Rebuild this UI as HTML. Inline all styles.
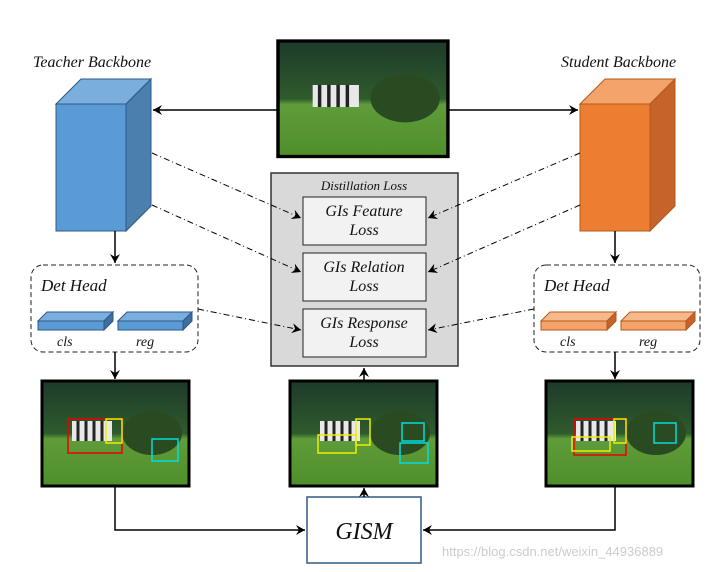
<!DOCTYPE html>
<html><head><meta charset="utf-8"><style>
body{margin:0;background:#fff}
svg{display:block}
text{font-family:"Liberation Serif",serif;font-style:italic;fill:#111}
</style></head><body>
<svg width="725" height="572" viewBox="0 0 725 572" xmlns="http://www.w3.org/2000/svg">
<defs>
<marker id="a" markerWidth="10" markerHeight="10" refX="9" refY="5" orient="auto" markerUnits="userSpaceOnUse"><path d="M0,0 L9,5 L0,10 L3,5 Z" fill="#000"/></marker>
<linearGradient id="sky" x1="0" y1="0" x2="0" y2="1"><stop offset="0" stop-color="#1d3a2a"/><stop offset="0.5" stop-color="#2f5b2c"/><stop offset="0.55" stop-color="#5f9c3a"/><stop offset="1" stop-color="#4f8f2a"/></linearGradient>
<g id="pic">
<rect x="0" y="0" width="147" height="105" fill="url(#sky)" stroke="#000" stroke-width="3"/>
<ellipse cx="110" cy="52" rx="30" ry="22" fill="#2a4a22"/>
<rect x="30" y="40" width="40" height="20" fill="#e8e8e8"/>
<path d="M36,40v20M44,40v20M52,40v20M60,40v20" stroke="#222" stroke-width="3"/>
</g>
</defs>
<!-- top image -->
<g transform="translate(278,41) scale(1.156,1.1)"><use href="#pic"/></g>
<!-- titles -->
<text x="33" y="67" font-size="16">Teacher Backbone</text>
<text x="561" y="67" font-size="16">Student Backbone</text>
<!-- teacher cube -->
<polygon points="56,104 81,79 151,79 126,104" fill="#7aaedd" stroke="#2e5a86"/>
<polygon points="126,104 151,79 151,206 126,231" fill="#4a7fae" stroke="#2e5a86"/>
<rect x="56" y="104" width="70" height="127" fill="#5b9bd5" stroke="#2e5a86"/>
<!-- student cube -->
<polygon points="580,104 605,79 675,79 650,104" fill="#f4a36a" stroke="#b45a1e"/>
<polygon points="650,104 675,79 675,206 650,231" fill="#c5632a" stroke="#b45a1e"/>
<rect x="580" y="104" width="70" height="127" fill="#ed7d31" stroke="#b45a1e"/>
<!-- arrows from image -->
<line x1="278" y1="110" x2="153" y2="110" stroke="#000" stroke-width="1.5" marker-end="url(#a)"/>
<line x1="448" y1="110" x2="578" y2="110" stroke="#000" stroke-width="1.5" marker-end="url(#a)"/>
<!-- distillation -->
<rect x="271" y="173" width="187" height="193" fill="#d9d9d9" stroke="#333" stroke-width="1.5"/>
<text x="364" y="190" font-size="13" text-anchor="middle">Distillation Loss</text>
<g font-size="16">
<rect x="303" y="197" width="123" height="48" fill="#f2f2f2" stroke="#222"/>
<text x="364" y="216" text-anchor="middle" font-size="16">GIs Feature</text><text x="364" y="235" text-anchor="middle" font-size="16">Loss</text>
<rect x="303" y="253" width="123" height="48" fill="#f2f2f2" stroke="#222"/>
<text x="364" y="272" text-anchor="middle" font-size="16">GIs Relation</text><text x="364" y="291" text-anchor="middle" font-size="16">Loss</text>
<rect x="303" y="309" width="123" height="48" fill="#f2f2f2" stroke="#222"/>
<text x="364" y="328" text-anchor="middle" font-size="16">GIs Response</text><text x="364" y="347" text-anchor="middle" font-size="16">Loss</text>
</g>
<!-- dash-dot connectors -->
<g stroke="#000" stroke-width="1" stroke-dasharray="6,3,1,3" fill="none">
<line x1="152" y1="153" x2="301" y2="218" marker-end="url(#a)"/>
<line x1="152" y1="205" x2="301" y2="272" marker-end="url(#a)"/>
<line x1="198" y1="309" x2="301" y2="330" marker-end="url(#a)"/>
<line x1="580" y1="153" x2="428" y2="218" marker-end="url(#a)"/>
<line x1="580" y1="205" x2="428" y2="272" marker-end="url(#a)"/>
<line x1="534" y1="309" x2="428" y2="330" marker-end="url(#a)"/>
</g>
<!-- down arrows from cubes -->
<line x1="115" y1="231" x2="115" y2="263" stroke="#000" stroke-width="1.5" marker-end="url(#a)"/>
<line x1="615" y1="231" x2="615" y2="263" stroke="#000" stroke-width="1.5" marker-end="url(#a)"/>
<!-- det heads -->
<rect x="31" y="265" width="167" height="87" rx="12" fill="none" stroke="#222" stroke-dasharray="5,3"/>
<text x="41" y="291" font-size="17">Det Head</text>
<g stroke="#2e5a86" stroke-width="1">
<polygon points="38,321 47,312 113,312 104,321" fill="#7aaedd"/><rect x="38" y="321" width="66" height="9" fill="#5b9bd5"/><polygon points="104,321 113,312 113,321 104,330" fill="#3f6f9e"/>
<polygon points="118,321 127,312 192,312 183,321" fill="#7aaedd"/><rect x="118" y="321" width="65" height="9" fill="#5b9bd5"/><polygon points="183,321 192,312 192,321 183,330" fill="#3f6f9e"/>
</g>
<text x="57" y="346" font-size="14">cls</text><text x="136" y="346" font-size="14">reg</text>
<rect x="534" y="265" width="166" height="87" rx="12" fill="none" stroke="#222" stroke-dasharray="5,3"/>
<text x="544" y="291" font-size="17">Det Head</text>
<g stroke="#b45a1e" stroke-width="1">
<polygon points="541,321 550,312 616,312 607,321" fill="#f7b98c"/><rect x="541" y="321" width="66" height="9" fill="#f4a36a"/><polygon points="607,321 616,312 616,321 607,330" fill="#c5632a"/>
<polygon points="621,321 630,312 695,312 686,321" fill="#f7b98c"/><rect x="621" y="321" width="65" height="9" fill="#f4a36a"/><polygon points="686,321 695,312 695,321 686,330" fill="#c5632a"/>
</g>
<text x="560" y="346" font-size="14">cls</text><text x="639" y="346" font-size="14">reg</text>
<!-- arrows to bottom images -->
<line x1="115" y1="352" x2="115" y2="379" stroke="#000" stroke-width="1.5" marker-end="url(#a)"/>
<line x1="615" y1="352" x2="615" y2="379" stroke="#000" stroke-width="1.5" marker-end="url(#a)"/>
<line x1="364" y1="381" x2="364" y2="368" stroke="#000" stroke-width="1.5" marker-end="url(#a)"/>
<!-- bottom images -->
<g transform="translate(42,381)"><use href="#pic"/>
<rect x="26" y="38" width="54" height="34" fill="none" stroke="#e00" stroke-width="1.5"/><rect x="64" y="38" width="16" height="24" fill="none" stroke="#ee0" stroke-width="1.5"/><rect x="110" y="58" width="26" height="22" fill="none" stroke="#0dd" stroke-width="1.5"/></g>
<g transform="translate(290,381)"><use href="#pic"/>
<rect x="28" y="54" width="38" height="18" fill="none" stroke="#ee0" stroke-width="1.5"/><rect x="66" y="38" width="14" height="26" fill="none" stroke="#ee0" stroke-width="1.5"/><rect x="112" y="42" width="22" height="18" fill="none" stroke="#0dd" stroke-width="1.5"/><rect x="110" y="62" width="28" height="20" fill="none" stroke="#0dd" stroke-width="1.5"/></g>
<g transform="translate(546,381)"><use href="#pic"/>
<rect x="28" y="38" width="52" height="36" fill="none" stroke="#e00" stroke-width="1.5"/><rect x="26" y="56" width="38" height="14" fill="none" stroke="#ee0" stroke-width="1.5"/><rect x="68" y="38" width="12" height="24" fill="none" stroke="#ee0" stroke-width="1.5"/><rect x="108" y="42" width="22" height="20" fill="none" stroke="#0dd" stroke-width="1.5"/></g>
<!-- GISM -->
<rect x="307" y="497" width="114" height="66" fill="#fff" stroke="#2e5a86" stroke-width="1.5"/>
<text x="364" y="539" font-size="24" text-anchor="middle">GISM</text>
<polyline points="115,486 115,530 305,530" fill="none" stroke="#000" stroke-width="1.5" marker-end="url(#a)"/>
<polyline points="615,486 615,530 423,530" fill="none" stroke="#000" stroke-width="1.5" marker-end="url(#a)"/>
<line x1="364" y1="497" x2="364" y2="488" stroke="#000" stroke-width="1.5" marker-end="url(#a)"/>
<text x="442" y="556" font-size="13" style="font-style:normal;font-family:'Liberation Sans',sans-serif;fill:#ccc">https://blog.csdn.net/weixin_44936889</text>
</svg>
</body></html>
